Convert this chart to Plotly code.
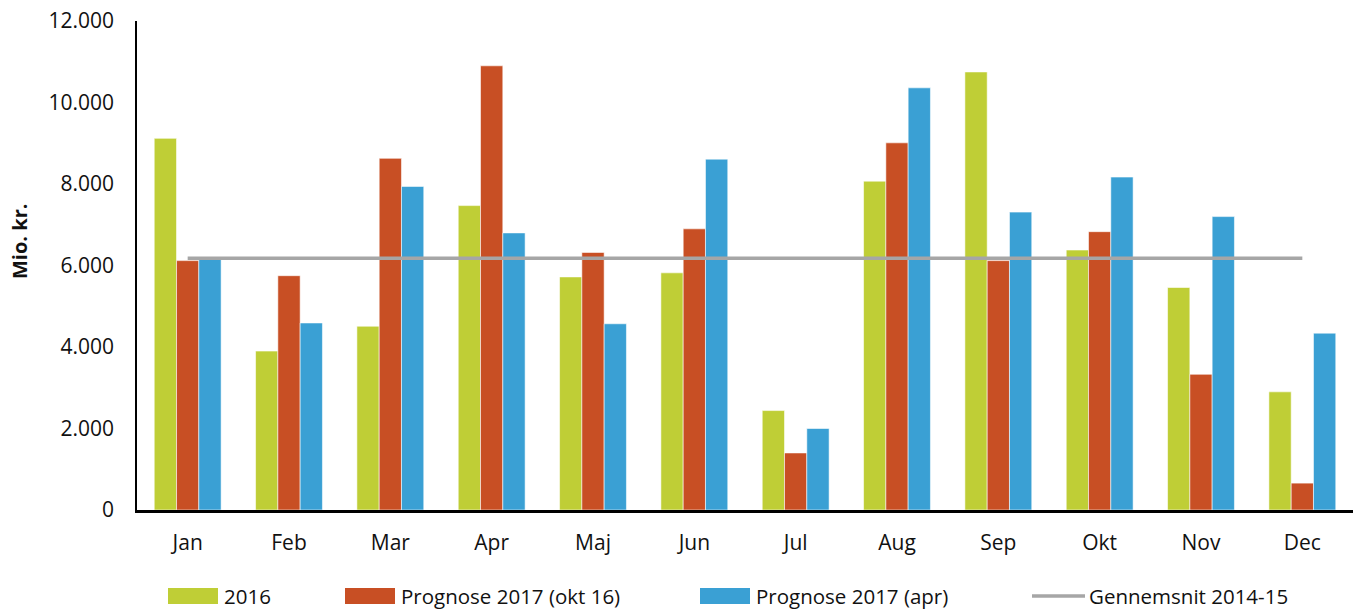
import plotly.graph_objects as go

# Monthly figures, mio. kr.
months = ["Jan", "Feb", "Mar", "Apr", "Maj", "Jun", "Jul", "Aug", "Sep", "Okt", "Nov", "Dec"]
actual_2016 = [9120, 3900, 4510, 7470, 5720, 5820, 2440, 8070, 10750, 6380, 5460, 2900]
forecast_okt16 = [6120, 5750, 8630, 10900, 6320, 6900, 1400, 9010, 6120, 6830, 3330, 660]
forecast_apr = [6150, 4590, 7940, 6800, 4570, 8610, 2000, 10360, 7310, 8170, 7200, 4340]
average_2014_15 = [6180] * 12

series_names = ["2016", "Prognose 2017 (okt 16)", "Prognose 2017 (apr)", "Gennemsnit 2014-15"]
colors = ["#BFCE36", "#C84F24", "#3AA0D4", "#A6A6A6"]

FONT = "Open Sans"
TEXT = "#111111"

fig = go.Figure()
for name, vals, col in zip(series_names[:3], [actual_2016, forecast_okt16, forecast_apr], colors[:3]):
    fig.add_trace(go.Bar(
        x=months, y=vals, name=name,
        marker=dict(color=col, line=dict(color="rgba(255,255,255,0.7)", width=0.8)),
        showlegend=False,
    ))

fig.add_trace(go.Scatter(
    x=months, y=average_2014_15, name=series_names[3], mode="lines",
    line=dict(color=colors[3], width=3.5), showlegend=False,
))

# Plot area geometry in pixels (used for the hand-placed legend and axis title)
W, H = 1355, 610
L, R, T, B = 137, 2, 21, 100
pw, ph = W - L - R, H - T - B


def px_x(px):
    return (px - L) / pw


def px_y(py):
    return (H - B - py) / ph


shapes = []
annotations = []
legend_y = 596
swatches = [(168, 218), (345, 395), (700, 750)]
for (x0, x1), col, name in zip(swatches, colors[:3], series_names[:3]):
    shapes.append(dict(type="rect", xref="paper", yref="paper",
                       x0=px_x(x0), x1=px_x(x1), y0=px_y(legend_y + 8), y1=px_y(legend_y - 8),
                       fillcolor=col, line=dict(width=0)))
    annotations.append(dict(x=px_x(x1 + 5), y=px_y(legend_y), xref="paper", yref="paper",
                            text=name, showarrow=False, xanchor="left", yanchor="middle",
                            borderpad=0,
                            font=dict(family=FONT, size=20.5, color=TEXT)))
shapes.append(dict(type="line", xref="paper", yref="paper",
                   x0=px_x(1032), x1=px_x(1085), y0=px_y(legend_y), y1=px_y(legend_y),
                   line=dict(color=colors[3], width=3.5)))
annotations.append(dict(x=px_x(1088), y=px_y(legend_y), xref="paper", yref="paper",
                        text=series_names[3], showarrow=False, xanchor="left", yanchor="middle",
                        borderpad=0,
                        font=dict(family=FONT, size=20.5, color=TEXT)))

# Y-axis title
annotations.append(dict(x=px_x(19), y=px_y(242), xref="paper", yref="paper",
                        text="<b>Mio. kr.</b>", textangle=-90, showarrow=False,
                        xanchor="center", yanchor="middle",
                        font=dict(family=FONT, size=20, color=TEXT)))

fig.update_layout(
    width=W, height=H,
    margin=dict(l=L, r=R, t=T, b=B, pad=0),
    paper_bgcolor="white", plot_bgcolor="white",
    barmode="group", bargap=0.34, bargroupgap=0,
    separators=",.",
    font=dict(family=FONT, size=21, color=TEXT),
    shapes=shapes, annotations=annotations,
    showlegend=False,
)
fig.update_xaxes(
    showline=True, linecolor="black", linewidth=2.5, showgrid=False,
    ticks="", ticklabelstandoff=12, tickfont=dict(family=FONT, size=21, color=TEXT),
)
fig.update_yaxes(
    range=[0, 12000], dtick=2000, tickformat=",d",
    showline=True, linecolor="black", linewidth=1.5, showgrid=False, zeroline=False,
    ticks="", ticklabelstandoff=17, tickfont=dict(family=FONT, size=21, color=TEXT),
)

fig.write_html("out.html")
